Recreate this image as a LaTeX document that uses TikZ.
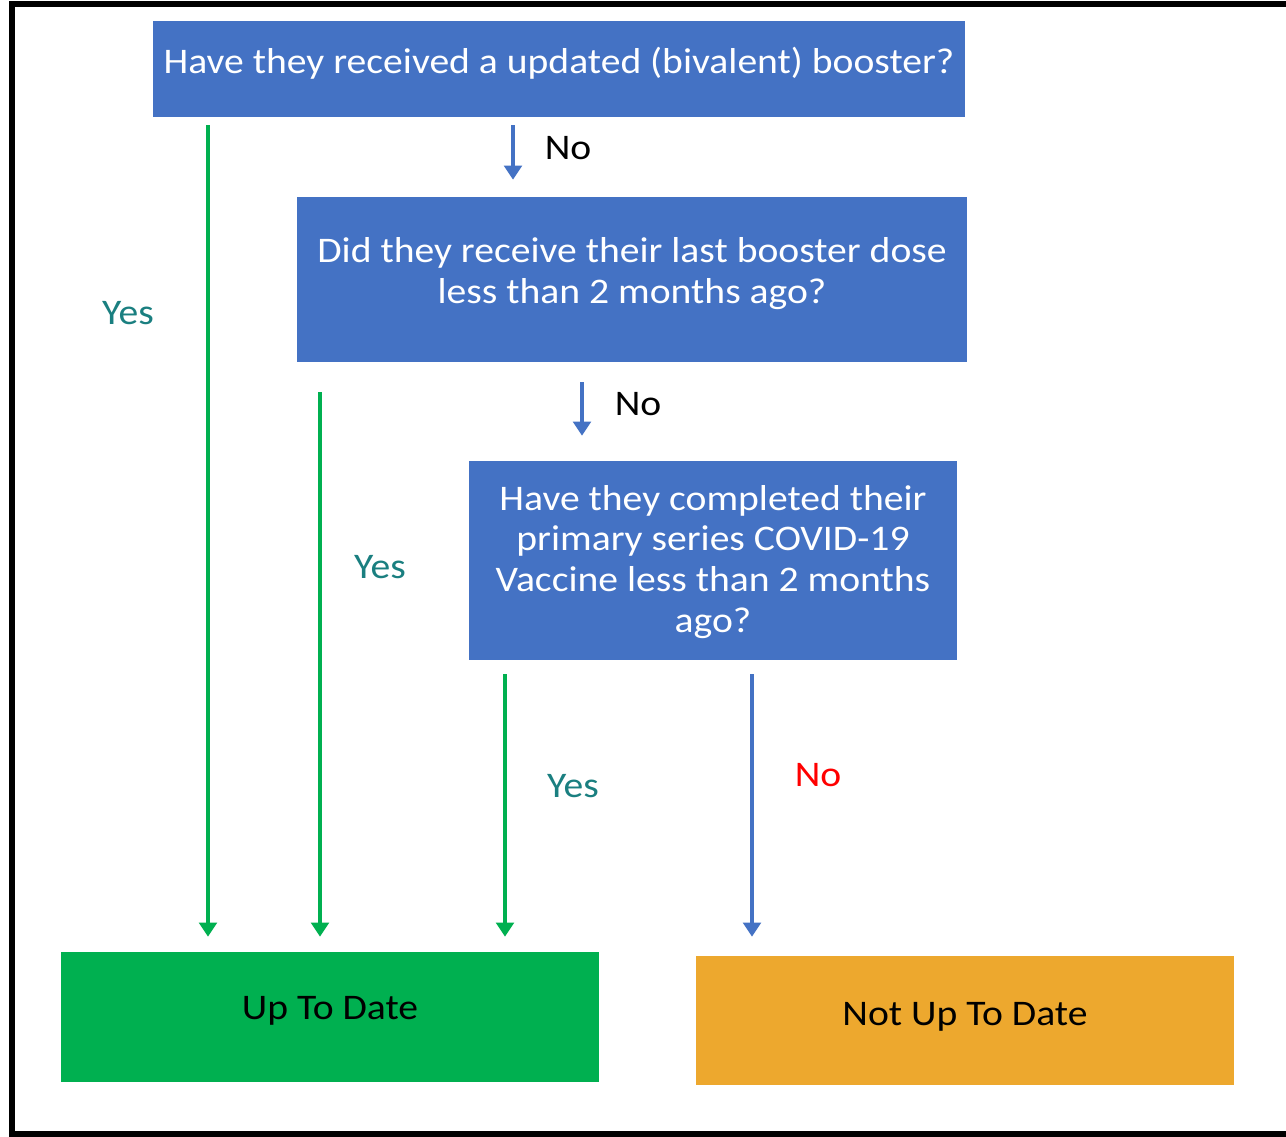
\documentclass[tikz,border=0pt]{standalone}
\usepackage{fontspec}
\setmainfont{Carlito}
\newfontfamily\widefont[FakeStretch=1.1]{Carlito}
\usetikzlibrary{arrows.meta,calc}
\definecolor{boxblue}{HTML}{4472C4}
\definecolor{boxgreen}{HTML}{00B050}
\definecolor{boxorange}{HTML}{EDA82E}
\definecolor{yesteal}{HTML}{1A7F80}
\definecolor{nored}{HTML}{FF0000}
\tikzset{
  qbox/.style={fill=boxblue, draw=none, inner sep=0pt},
  qtext/.style={text=white, inner sep=0pt, align=center, font=\widefont\fontsize{20.5}{23.3}\selectfont},
  resbox/.style={draw=none, inner sep=0pt},
  restext/.style={inner sep=0pt, text=black, font=\widefont\fontsize{20.5}{23}\selectfont},
  garrow/.style={draw=boxgreen, line width=2.3pt, -{Triangle[width=10pt,length=8pt]}},
  barrow/.style={draw=boxblue, line width=2.3pt, -{Triangle[width=10pt,length=8pt]}},
  lbl/.style={inner sep=0pt, font=\widefont\fontsize{20.5}{23}\selectfont},
}
\begin{document}
\begin{tikzpicture}[x=0.02cm,y=-0.02cm]
\useasboundingbox (0,0) rectangle (1286,1137);
\fill[white] (0,0) rectangle (1286,1137);
\draw[line width=3pt, black] (1300,4) -- (12,4) -- (12,1134) -- (1300,1134);

\node[qbox, minimum width=812*0.02cm, minimum height=96*0.02cm] (b1) at (559,69) {};
\node[qbox, minimum width=670*0.02cm, minimum height=165*0.02cm] (b2) at (632,279.5) {};
\node[qbox, minimum width=488*0.02cm, minimum height=199*0.02cm] (b3) at (713,560.5) {};
\node[resbox, fill=boxgreen, minimum width=538*0.02cm, minimum height=130*0.02cm] (up) at (330,1017) {};
\node[resbox, fill=boxorange, minimum width=538*0.02cm, minimum height=129*0.02cm] (nup) at (965,1020.5) {};

\node[qtext] (b1t) at ($(b1)+(0,-4)$) {Have they received a updated (bivalent) booster?\strut};
\node[qtext] (b2t) at ($(b2)+(0,-5.5)$) {Did they receive their last booster dose\\ less than 2 months ago?};
\node[qtext] (b3t) at ($(b3)+(0,1.5)$) {Have they completed their\\ primary series COVID-19\\ Vaccine less than 2 months\\ ago?};
\node[restext] (upt) at ($(up)+(0,-6)$) {Up To Date};
\node[restext] (nupt) at ($(nup)+(0,-4)$) {Not Up To Date};

\coordinate (x1) at (208,0);
\coordinate (x2) at (320,0);
\coordinate (x3) at (505,0);
\coordinate (x4) at (513,0);
\coordinate (x5) at (582,0);
\coordinate (x6) at (752,0);

\draw[garrow] ([yshift=-0.16cm]x1 |- b1.south) -- ([yshift=0.3cm]x1 |- up.north);
\draw[garrow] ([yshift=-0.6cm]x2 |- b2.south) -- ([yshift=0.3cm]x2 |- up.north);
\draw[garrow] ([yshift=-0.28cm]x3 |- b3.south) -- ([yshift=0.3cm]x3 |- up.north);
\draw[barrow] ([yshift=-0.16cm]x4 |- b1.south) -- ([yshift=0.34cm]x4 |- b2.north);
\draw[barrow] ([yshift=-0.4cm]x5 |- b2.south) -- ([yshift=0.5cm]x5 |- b3.north);
\draw[barrow] ([yshift=-0.28cm]x6 |- b3.south) -- ([yshift=0.38cm]x6 |- nup.north);

\node[lbl, text=black] (n1) at (568,148) {No};
\node[lbl, text=black] (n2) at (638,404) {No};
\node[lbl, text=nored] (n3) at (818,775) {No};
\node[lbl, text=yesteal] (y1) at (128,313) {Yes};
\node[lbl, text=yesteal] (y2) at (380,567) {Yes};
\node[lbl, text=yesteal] (y3) at (573,786) {Yes};
\end{tikzpicture}
\end{document}
